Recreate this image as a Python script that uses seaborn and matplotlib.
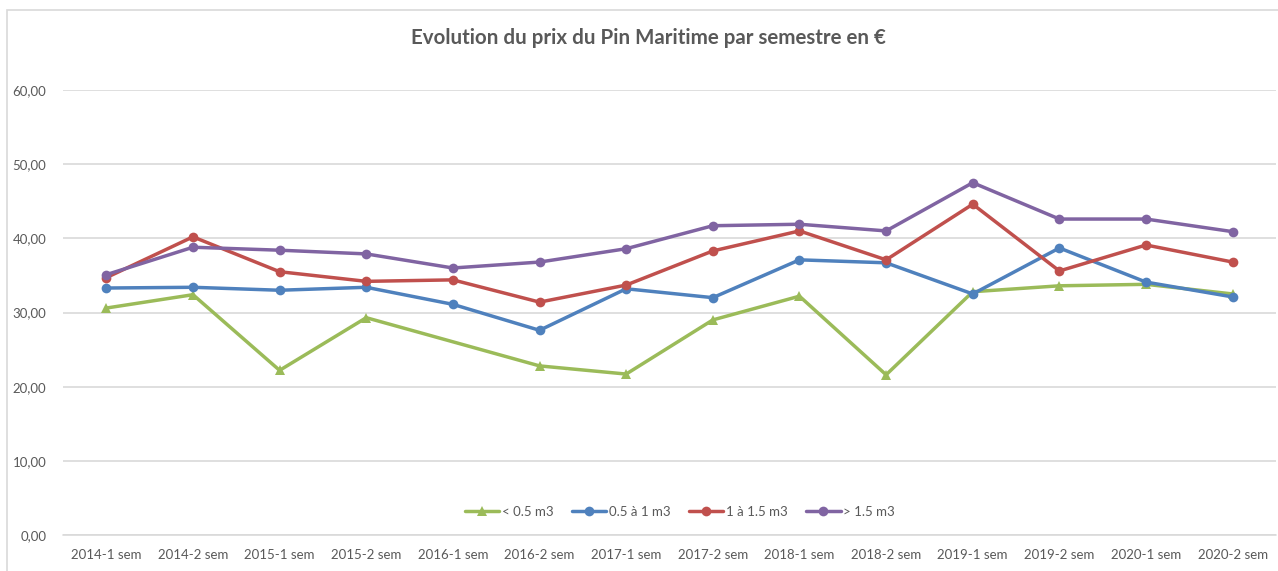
import pandas as pd
import numpy as np
import matplotlib.pyplot as plt
from matplotlib.patches import Rectangle
from matplotlib.ticker import FuncFormatter
import seaborn as sns
plt.switch_backend('Agg')

# Data
semestres = ["2014-1 sem", "2014-2 sem", "2015-1 sem", "2015-2 sem", "2016-1 sem",
             "2016-2 sem", "2017-1 sem", "2017-2 sem", "2018-1 sem", "2018-2 sem",
             "2019-1 sem", "2019-2 sem", "2020-1 sem", "2020-2 sem"]
moins_05 = [30.6, 32.4, 22.2, 29.3, np.nan, 22.8, 21.7, 29.0, 32.2, 21.6, 32.8, 33.6, 33.8, 32.5]
de_05_a_1 = [33.3, 33.4, 33.0, 33.4, 31.1, 27.6, 33.2, 32.0, 37.1, 36.7, 32.5, 38.7, 34.1, 32.1]
de_1_a_15 = [34.7, 40.2, 35.5, 34.2, 34.4, 31.4, 33.7, 38.3, 41.0, 37.1, 44.6, 35.6, 39.1, 36.8]
plus_15 = [35.1, 38.8, 38.4, 37.9, 36.0, 36.8, 38.6, 41.7, 41.9, 41.0, 47.5, 42.6, 42.6, 40.9]

series = {"< 0.5 m3": moins_05, "0.5 à 1 m3": de_05_a_1,
          "1 à 1.5 m3": de_1_a_15, "> 1.5 m3": plus_15}
colors = {"< 0.5 m3": "#9BBB59", "0.5 à 1 m3": "#4F81BD",
          "1 à 1.5 m3": "#C0504D", "> 1.5 m3": "#8064A2"}
markers = {"< 0.5 m3": "^", "0.5 à 1 m3": "o", "1 à 1.5 m3": "o", "> 1.5 m3": "o"}

rows = []
for name, vals in series.items():
    for i, v in enumerate(vals):
        rows.append({"pos": i, "prix": v, "taille": name})
# the missing 2016-1 point is skipped, the line joins across it like in Excel
df = pd.DataFrame(rows).dropna()

sns.set_style("white")
plt.rcParams['font.family'] = ['Lato', 'DejaVu Sans']

fig = plt.figure(figsize=(12.78, 5.71), dpi=100)
ax = fig.add_axes([63 / 1278, 1 - 535 / 571, 1213 / 1278, 445 / 571])

sns.lineplot(data=df, x="pos", y="prix", hue="taille", style="taille",
             palette=colors, markers=markers, dashes=False, linewidth=2.5,
             markersize=7, markeredgewidth=0, ax=ax, sort=False)

ax.set_xlim(-0.5, 13.5)
ax.set_ylim(0, 60)
ax.set_yticks(range(0, 61, 10))
ax.yaxis.set_major_formatter(FuncFormatter(lambda v, p: f"{v:.2f}".replace(".", ",")))
ax.set_xticks(range(len(semestres)))
ax.set_xticklabels(semestres)
ax.grid(axis="y", color="#D9D9D9", linewidth=1.2)
ax.axhline(0, color="#D9D9D9", linewidth=1.2, clip_on=False, zorder=0)
ax.set_axisbelow(True)
for s in ax.spines.values():
    s.set_visible(False)
ax.tick_params(axis="both", length=0, labelsize=9.5, colors="#595959")
ax.tick_params(axis="y", pad=12)
ax.tick_params(axis="x", pad=10)
ax.set_xlabel("")
ax.set_ylabel("")

ax.legend(loc="center", bbox_to_anchor=(617 / 1213, (535 - 512) / 445),
          ncol=4, frameon=False, fontsize=9.5, labelcolor="#595959",
          handlelength=2.6, handletextpad=0.2, columnspacing=1.4)

fig.text(648 / 1278, 1 - 38 / 571, "Evolution du prix du Pin Maritime par semestre en €",
         ha="center", va="center", fontsize=14.8, fontweight="bold", color="#595959")

fig.patches.append(Rectangle((7 / 1278, -0.1), 1.2, 1 - 10 / 571 + 0.1,
                             transform=fig.transFigure, fill=False,
                             edgecolor="#D9D9D9", linewidth=1.2))

fig.savefig("out.png", dpi=100)
